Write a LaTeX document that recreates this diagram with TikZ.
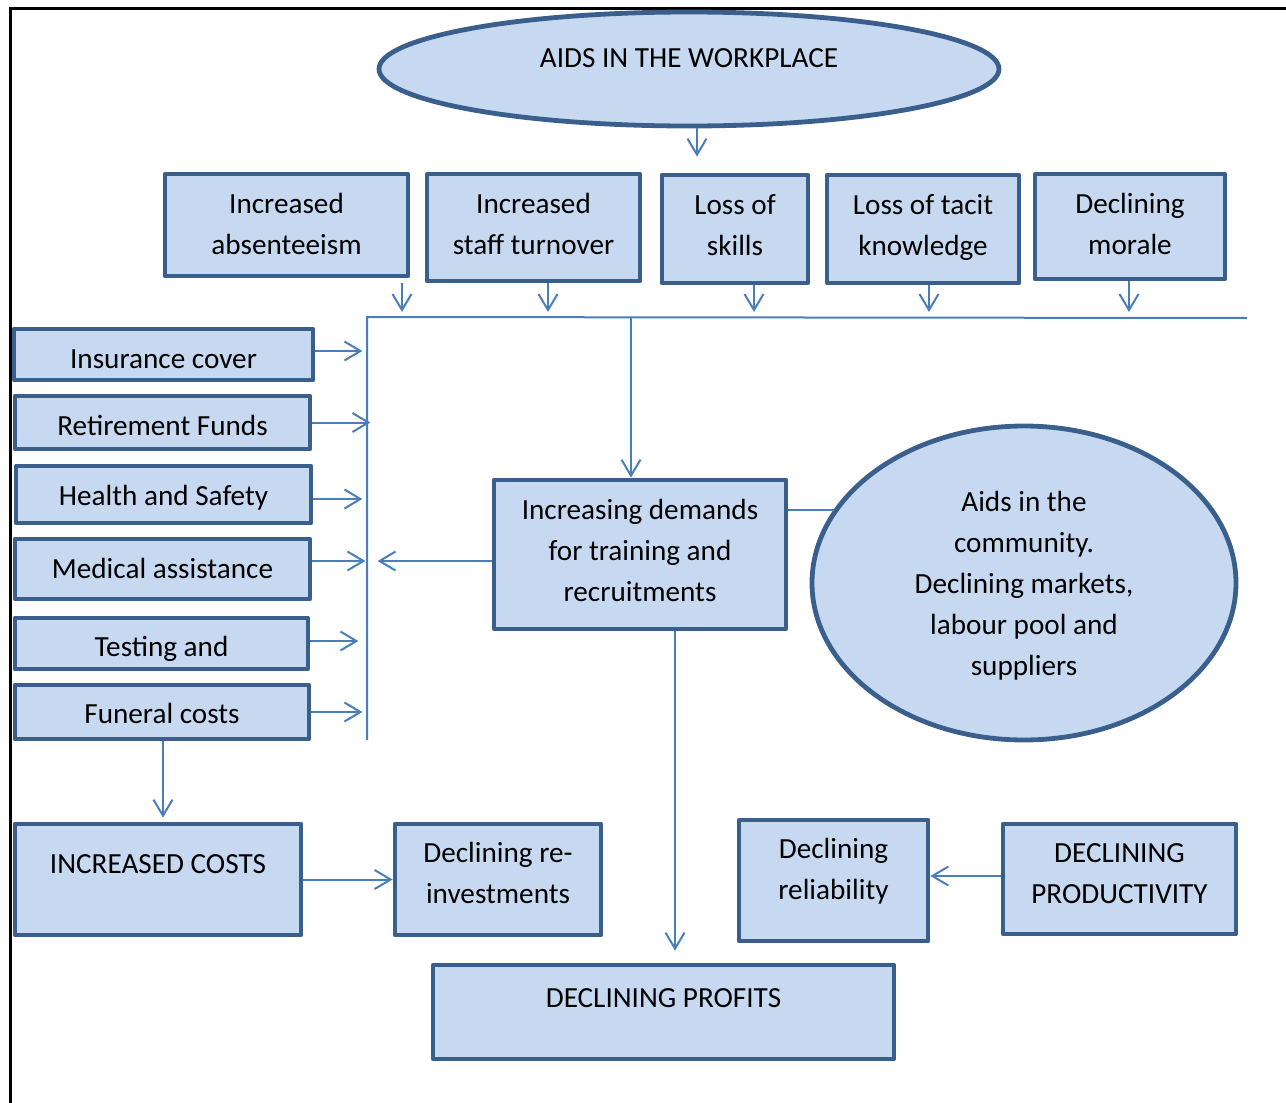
\documentclass[tikz,border=0pt]{standalone}
\usepackage{fontspec}
\setmainfont{Carlito}
\usetikzlibrary{arrows.meta,shapes.geometric}
\definecolor{boxfill}{HTML}{C6D9F1}
\definecolor{boxline}{HTML}{3A5F8D}
\definecolor{arrc}{HTML}{4A7EBB}
\newdimen\pxu \pxu=0.5pt
\newcommand\tx[2]{\raisebox{#1\pxu}[0pt][0pt]{\begin{tabular}{@{}c@{}}#2\end{tabular}}}
\begin{document}
\begin{tikzpicture}[x=0.5pt,y=-0.5pt,
  base/.style={draw=boxline, fill=boxfill, line width=2.4pt, inner sep=0pt, line join=round,
    font=\fontsize{14.6pt}{20.5pt}\selectfont},
  box/.style={base, rectangle},
  oval/.style={base, ellipse},
  arr/.style={draw=arrc, line width=1pt, -{Straight Barb[length=8pt,width=9.5pt,line width=1pt]}},
  ln/.style={draw=arrc, line width=1pt}]
\useasboundingbox (0,0) rectangle (1286,1103);
\draw[black, line width=1.5pt] (10,1103) -- (10,8) -- (1286,8);

% top ellipse
\node[oval, minimum width=310pt, minimum height=57pt] (wp) at (689,69) {\tx{3}{AIDS IN THE WORKPLACE}};

% top row
\node[box, minimum width=121.5pt, minimum height=51pt] (abs) at (286.5,225) {\tx{-7.5}{Increased\\absenteeism}};
\node[box, minimum width=106.5pt, minimum height=53.5pt] (tur) at (533.5,227.5) {\tx{-5}{Increased\\staff turnover}};
\node[box, minimum width=73pt, minimum height=54pt] (skl) at (735,229) {\tx{-5}{Loss of\\skills}};
\node[box, minimum width=96pt, minimum height=54pt] (tac) at (923,229) {\tx{-4.5}{Loss of tacit\\knowledge}};
\node[box, minimum width=95pt, minimum height=52.5pt] (mor) at (1130,226.5) {\tx{-6}{Declining\\morale}};

% left column
\node[box, minimum width=149.5pt, minimum height=25.5pt] (ins) at (163.5,354.5) {\tx{-12.5}{Insurance cover}};
\node[box, minimum width=147.5pt, minimum height=26.5pt] (ret) at (162.5,422.5) {\tx{-11.5}{Retirement Funds}};
\node[box, minimum width=147.5pt, minimum height=28.5pt] (hs) at (163.5,494.5) {\tx{-9.5}{Health and Safety}};
\node[box, minimum width=147.5pt, minimum height=30pt] (med) at (162.5,569) {\tx{-8}{Medical assistance}};
\node[box, minimum width=146.5pt, minimum height=25.5pt] (tst) at (161.5,643.5) {\tx{-11.5}{Testing and}};
\node[box, minimum width=147pt, minimum height=27pt] (fun) at (162,712) {\tx{-10}{Funeral costs}};

% centre
\node[box, minimum width=146pt, minimum height=74.5pt] (dem) at (640,554.5) {\tx{-4.5}{Increasing demands\\for training and\\recruitments}};
\node[oval, minimum width=212pt, minimum height=157pt] (comm) at (1024,583) {\tx{-9.4}{Aids in the\\community.\\Declining markets,\\labour pool and\\suppliers}};

% bottom
\node[box, minimum width=143pt, minimum height=55.5pt] (cost) at (158,879.5) {\tx{7.5}{INCREASED COSTS}};
\node[box, minimum width=103pt, minimum height=55.5pt] (rein) at (498,879.5) {\tx{-2}{Declining re-\\investments}};
\node[box, minimum width=94.5pt, minimum height=60.5pt] (rel) at (833.5,880.5) {\tx{3}{Declining\\reliability}};
\node[box, minimum width=116.5pt, minimum height=55pt] (prod) at (1119.5,879) {\tx{-3}{DECLINING\\PRODUCTIVITY}};
\node[box, minimum width=230.5pt, minimum height=47pt] (prof) at (663.5,1012) {\tx{6}{DECLINING PROFITS}};

% bus lines
\coordinate (busL) at (367,317);
\coordinate (busR) at (1247,318);
\coordinate (busB) at (367,740);
\draw[ln] (busR) -- (busL) -- (busB);

% arrows
\draw[arr, shorten >=7.5pt] (wp.south -| 697,0) -- (697,0 |- tur.north);
\draw[arr, shorten >=2.5pt] (402,283) -- (402,0 |- busL);
\draw[arr, shorten >=2.5pt] (tur.south -| 548,0) -- (548,0 |- busL);
\draw[arr, shorten >=2.5pt] (skl.south -| 754,0) -- (754,0 |- busL);
\draw[arr, shorten >=2.5pt] (tac.south -| 929,0) -- (929,0 |- busL);
\draw[arr, shorten >=2.5pt] (mor.south -| 1129,0) -- (1129,0 |- busL);

\draw[arr] ([yshift=1.75pt]ins.east) -- ++(47,0);
\draw[arr] (ret.east) -- ++(58,0);
\draw[arr] ([yshift=-2.25pt]hs.east) -- ++(49,0);
\draw[arr] ([yshift=4pt]med.east) -- ++(53,0);
\draw[arr] ([yshift=1.25pt]tst.east) -- ++(48,0);
\draw[arr] (fun.east) -- ++(51,0);

\draw[arr] (631,0 |- busL) -- (631,0 |- dem.north);
\draw[arr] ([yshift=-3.25pt]dem.west) -- ++(-114,0);
\draw[ln] (dem.east |- comm.159.2) -- (comm.159.2);
\draw[arr, shorten >=6pt] (dem.south -| 675,0) -- (675,0 |- prof.north);

\draw[arr, shorten >=2pt] (fun.south -| 163,0) -- (163,0 |- cost.north);
\draw[arr] (cost.east) -- (rein.west);
\draw[arr] ([yshift=1.5pt]prod.west) -- ([yshift=1.5pt]rel.east |- prod.west);
\end{tikzpicture}
\end{document}
